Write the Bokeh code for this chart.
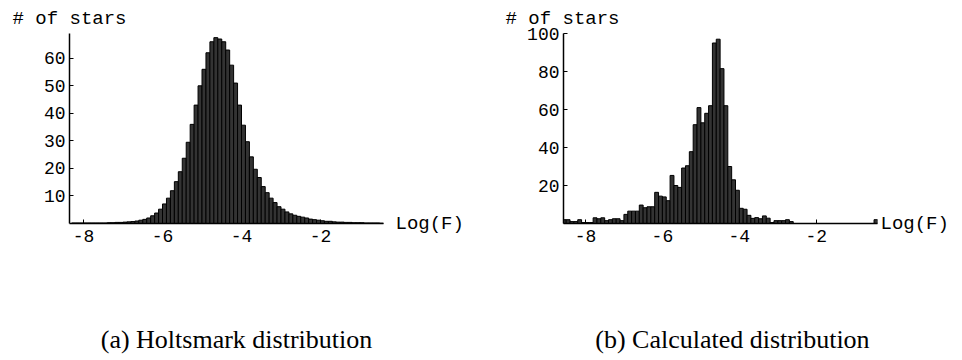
import numpy as np
from bokeh.plotting import figure
from bokeh.layouts import row
from bokeh.models import FixedTicker, Title, LinearAxis
from bokeh.embed import file_html
from bokeh.resources import INLINE

# ---- data ----
bin_width = 0.1
start_a = -8.3
counts_a = [0.2, 0.2, 0.2, 0.2, 0.2, 0.2, 0.2, 0.2, 0.2, 0.3,
            0.3, 0.4, 0.4, 0.5, 0.6, 0.7, 0.9, 1.2, 1.5, 2.0,
            2.8, 3.8, 5.2, 7.1, 9.2, 11.9, 15.2, 18.8, 23.7, 29.5,
            36, 43, 50, 56, 62, 66, 67.5, 67, 66, 63,
            57.5, 51, 43, 35.7, 29.7, 24.2, 19.7, 16.7, 13.4, 11.2,
            9.2, 7.6, 6.1, 5.2, 4.2, 3.5, 3.0, 2.6, 2.3, 2.0,
            1.6, 1.4, 1.2, 1.0, 0.8, 0.8, 0.6, 0.5, 0.5, 0.4,
            0.4, 0.3, 0.3, 0.3, 0.2, 0.2, 0.2, 0.2, 0.1]
start_b = -8.6
counts_b = [2, 2, 1, 1, 2, 0.5, 0.5, 0.5, 3, 2.5,
            3, 1.5, 2, 2.5, 2.5, 1.5, 4.8, 6.5, 6.5, 6.5,
            9.7, 8.3, 8.8, 8.8, 16.4, 14.4, 14, 12, 25.3, 20,
            19, 29.2, 30.4, 37.8, 52, 61, 53, 58, 62, 95,
            97, 81.5, 62, 30, 23, 17.5, 8, 7.5, 4.3, 2.7,
            3.1, 2.5, 4, 2.8, 0.5, 1.5, 1.5, 1.5, 2, 1,
            0, 0, 0, 0, 0, 0, 0, 0, 0, 0,
            0, 0, 0, 0, 0, 0, 0, 0, 0, 0,
            0, 2]

x_ticks = [-8, -6, -4, -2]
y_ticks_a = [10, 20, 30, 40, 50, 60]
y_ticks_b = [20, 40, 60, 80, 100]
y_label = "# of stars"
x_label = "Log(F)"
caption_a = "(a) Holtsmark distribution"
caption_b = "(b) Calculated distribution"

MONO = "Liberation Mono"
SERIF = "Liberation Serif"


def text_axis(tick, label, standoff, font, size):
    return LinearAxis(ticker=FixedTicker(ticks=[tick]),
                      major_label_overrides={tick: label},
                      axis_line_color=None, major_tick_line_color=None,
                      minor_tick_line_color=None,
                      major_tick_in=0, major_tick_out=0,
                      major_label_standoff=standoff,
                      major_label_text_font=font,
                      major_label_text_font_size=size,
                      major_label_text_color="black")


def panel(start, counts, xr, yr, yticks, border_left, border_right,
          caption, cap_x, label_offset, logf_off):
    lefts = start + bin_width * np.arange(len(counts))
    p = figure(width=border_left + 314 + border_right, height=360,
               x_range=xr, y_range=yr,
               output_backend="svg", toolbar_location=None,
               min_border_left=border_left, min_border_right=border_right,
               min_border_top=33, min_border_bottom=137)
    p.quad(left=lefts, right=lefts + bin_width, bottom=0, top=counts,
           fill_color="#333333", line_color="black", line_width=1)
    p.xgrid.visible = False
    p.ygrid.visible = False
    p.outline_line_color = None
    p.background_fill_color = "white"
    p.border_fill_color = "white"

    p.xaxis.ticker = FixedTicker(ticks=x_ticks)
    p.yaxis.ticker = FixedTicker(ticks=yticks)
    p.xaxis.major_label_overrides = {t: str(t) for t in x_ticks}
    for ax in (p.xaxis, p.yaxis):
        ax.axis_line_color = "black"
        ax.axis_line_width = 1.5
        ax.major_tick_line_color = "black"
        ax.major_tick_in = 4
        ax.major_tick_out = 0
        ax.minor_tick_line_color = None
        ax.major_label_text_font = MONO
        ax.major_label_text_font_size = "18px"
        ax.major_label_text_color = "black"
    p.xaxis.major_label_standoff = 6
    p.yaxis.major_label_standoff = 4

    # "Log(F)" beside the right end of the x axis, at y = 0
    p.add_layout(text_axis(0, x_label, logf_off, MONO, "19px"), "right")
    # caption under the panel
    p.add_layout(text_axis(cap_x, caption, 80, SERIF, "26px"), "below")

    # "# of stars" above the y axis
    p.add_layout(Title(text=y_label, align="left", offset=label_offset,
                       standoff=8, text_font=MONO, text_font_size="19px",
                       text_font_style="normal", text_color="black"), "above")
    return p


p1 = panel(start_a, counts_a, (-8.355, -0.405), (0, 69), y_ticks_a, 69, 98,
           caption_a, -4.127, -57, 12)
p2 = panel(start_b, counts_b, (-8.57, -0.41), (0, 100), y_ticks_b, 82, 85,
           caption_b, -4.18, -58, 3)

layout = row(p1, p2)
open("out.html", "w").write(file_html(layout, INLINE))
